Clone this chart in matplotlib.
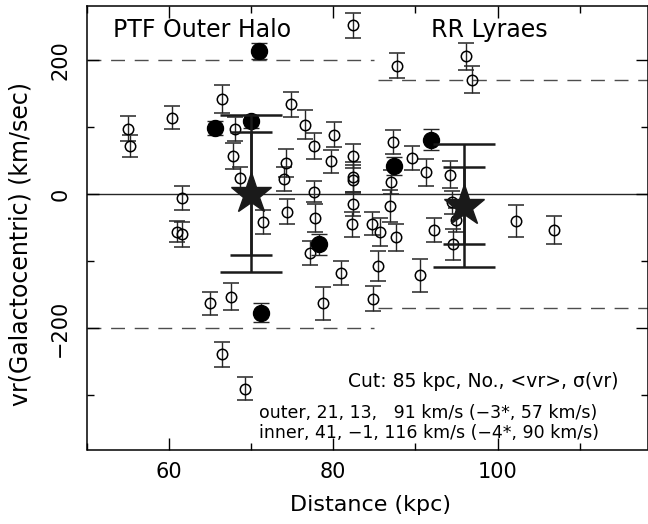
import matplotlib
matplotlib.use('Agg')
import numpy as np
import matplotlib.pyplot as plt
from matplotlib.ticker import MultipleLocator

# open circles: distance (kpc), Galactocentric vr (km/s), error (km/s)
dist_open = [55.0, 55.2, 60.4, 61.6, 61.0, 61.6, 65.0, 66.5, 66.5, 67.6,
             68.0, 67.8, 68.7, 69.2, 71.4, 74.8, 74.3, 74.0, 74.4, 76.6,
             77.6, 77.7, 77.8, 77.2, 78.7, 80.1, 79.7, 80.9, 82.4, 82.4,
             82.4, 82.4, 82.4, 82.3, 84.7, 84.8, 85.4, 85.7, 87.8, 96.2,
             96.9, 87.3, 89.6, 91.3, 94.2, 87.0, 86.9, 87.6, 90.5, 92.2,
             94.4, 94.9, 94.6, 102.2, 106.8]
vr_open = [98, 72, 114, -5, -56, -60, -163, 142, -239, -153,
           97, 57, 25, -290, -41, 134, 47, 23, -26, 104,
           72, 4, -35, -88, -163, 89, 49, -118, 252, 57,
           26, 22, -14, -45, -44, -156, -107, -56, 192, 206,
           171, 78, 54, 33, 29, 18, -17, -64, -121, -53,
           -12, -39, -75, -40, -53]
err_open = [19, 16, 17, 18, 16, 18, 17, 21, 19, 20,
            18, 20, 16, 17, 18, 19, 21, 18, 19, 22,
            19, 16, 21, 18, 24, 19, 17, 18, 19, 18,
            22, 22, 18, 19, 17, 19, 22, 21, 19, 20,
            20, 18, 18, 20, 20, 18, 24, 20, 25, 18,
            17, 18, 23, 24, 21]

# filled circles
dist_fill = [65.6, 70.0, 70.9, 71.2, 78.3, 91.9, 87.4]
vr_fill = [99, 109, 214, -177, -75, 81.5, 42]
err_fill = [10, 10, 12, 14, 15, 16, 14]

# mean velocity stars (inner / outer samples)
star_dist = [70.0, 95.9]
star_vr = [1, -17]
star_sig_big = [117, 92]
star_sig_small = [92, 57]

fig = plt.figure(figsize=(6.48, 5.24), dpi=100)
ax = fig.add_axes([86.8/648, 74.5/524, (648-86.8)/648, 443.5/524])

ax.axhline(0, color='0.15', lw=1.0, zorder=1)
ax.hlines([200, -200], 50, 85, colors='0.3', lw=1.0, linestyles=(0, (10, 7)), zorder=1)
ax.hlines([170, -170], 85.5, 118.3, colors='0.3', lw=1.0, linestyles=(0, (10, 7)), zorder=1)

ax.errorbar(dist_open, vr_open, yerr=err_open, fmt='o', ms=7.5, mfc='none',
            mec='black', mew=1.1, ecolor='0.15', elinewidth=1.0, capsize=5.5,
            capthick=1.0, zorder=2)
ax.errorbar(dist_fill, vr_fill, yerr=err_fill, fmt='o', ms=11.5, mfc='black',
            mec='black', ecolor='0.15', elinewidth=1.0, capsize=5.5,
            capthick=1.0, zorder=3)

ax.errorbar(star_dist, star_vr, yerr=star_sig_big, fmt='none', ecolor='0.1',
            elinewidth=1.8, capsize=22, capthick=1.8, zorder=4)
ax.errorbar(star_dist, star_vr, yerr=star_sig_small, fmt='none', ecolor='0.1',
            elinewidth=1.8, capsize=15, capthick=1.8, zorder=4)
ax.plot(star_dist, star_vr, '*', ms=31, color='0.1', mec='0.1', zorder=5)

ax.set_xlim(50, 118.3)
ax.set_ylim(-381, 281)
ax.xaxis.set_major_locator(MultipleLocator(20))
ax.xaxis.set_minor_locator(MultipleLocator(10))
ax.yaxis.set_major_locator(MultipleLocator(200))
ax.yaxis.set_minor_locator(MultipleLocator(100))
ax.tick_params(which='both', direction='in', top=True, right=True, width=1.0)
ax.tick_params(which='major', length=8.5, labelsize=15)
ax.tick_params(which='minor', length=5)
ax.tick_params(axis='x', pad=9)
ax.tick_params(axis='y', pad=12)
for lab in ax.get_yticklabels():
    lab.set_rotation(90)
    lab.set_va('center')
for sp in ax.spines.values():
    sp.set_linewidth(1.1)

ax.set_xlabel('Distance (kpc)', fontsize=16)
ax.set_ylabel('vr(Galactocentric) (km/sec)', fontsize=17)
ax.xaxis.set_label_coords(0.505, -0.103)
ax.yaxis.set_label_coords(-0.097, 0.464)

ax.text(53.2, 245, 'PTF Outer Halo', fontsize=17, va='center', ha='left')
ax.text(91.9, 245, 'RR Lyraes', fontsize=17, va='center', ha='left')
ax.text(98.2, -280, 'Cut: 85 kpc, No., <vr>, \u03c3(vr)', fontsize=13.5,
        va='center', ha='center')
ax.text(91.6, -326, 'outer, 21, 13,   91 km/s (\u22123*, 57 km/s)', fontsize=12.5,
        va='center', ha='center')
ax.text(91.6, -356, 'inner, 41, \u22121, 116 km/s (\u22124*, 90 km/s)', fontsize=12.5,
        va='center', ha='center')

fig.savefig('out.png', dpi=100)
